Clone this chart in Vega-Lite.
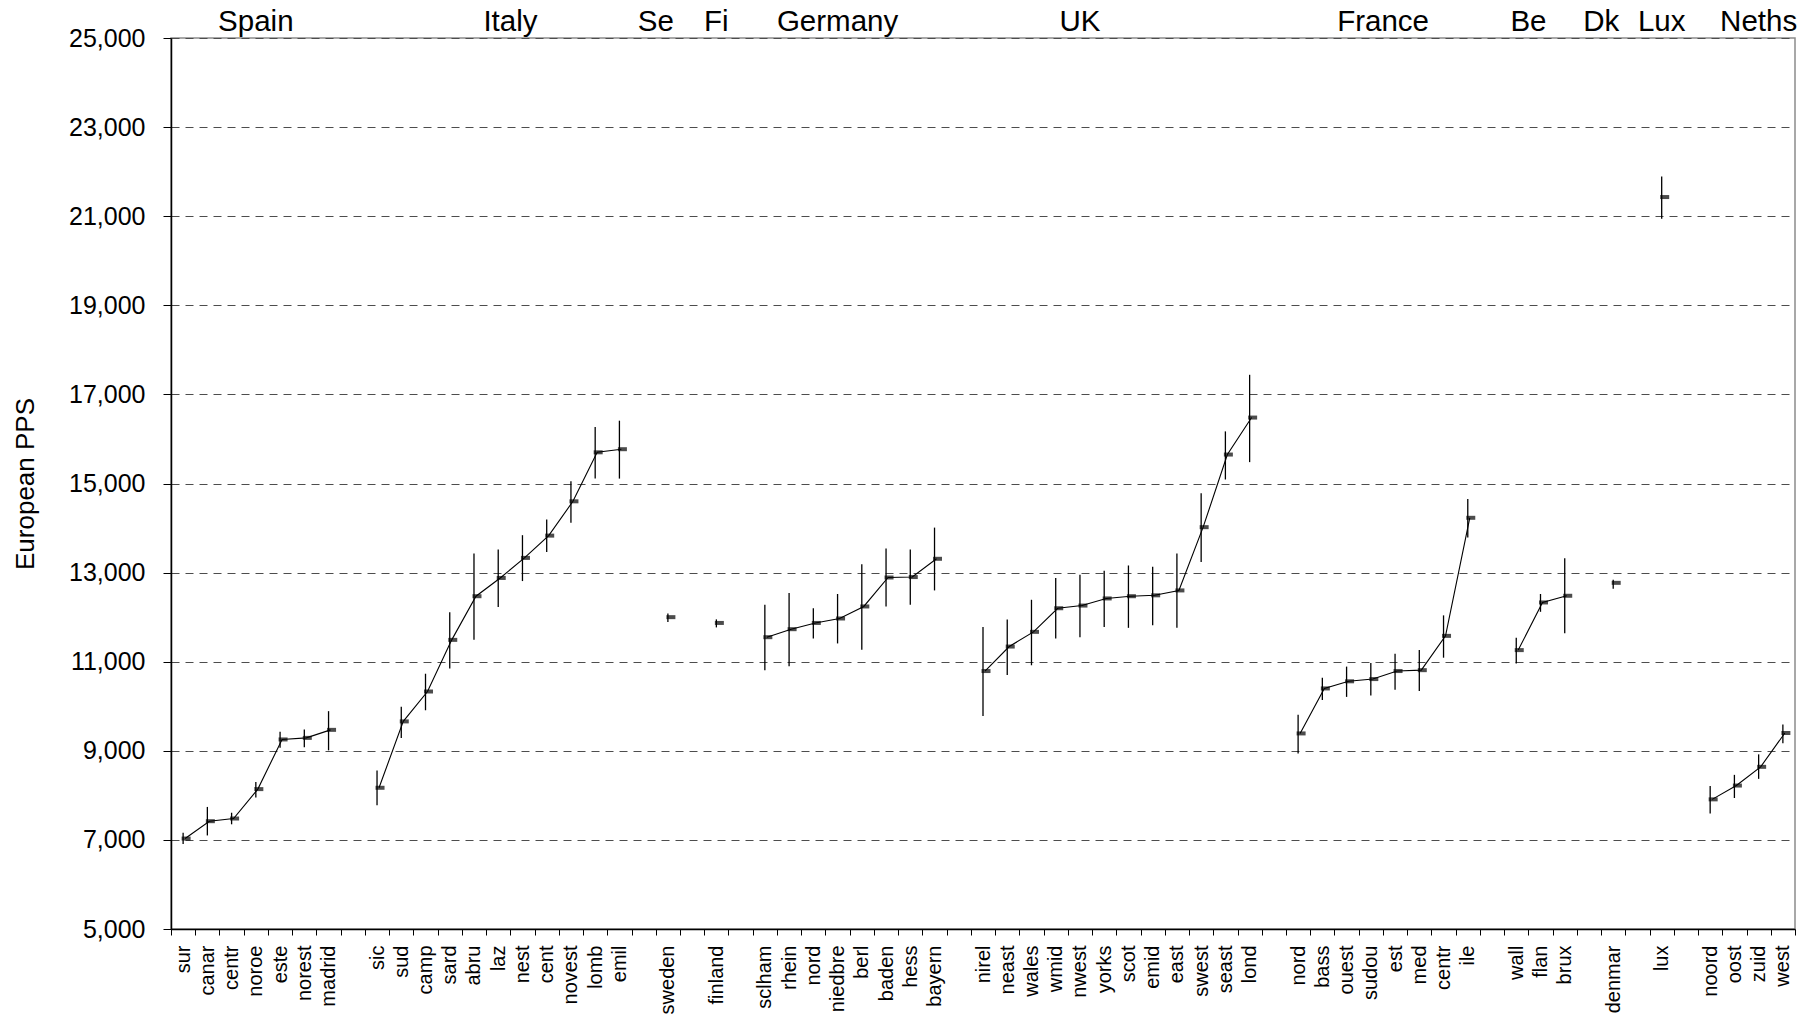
{
  "$schema": "https://vega.github.io/schema/vega-lite/v6.json",
  "width": 1624,
  "height": 891,
  "autosize": "none",
  "padding": {"left": 171, "top": 38, "right": 14, "bottom": 90},
  "background": "white",
  "config": {
    "font": "Liberation Sans",
    "view": {"stroke": "#8c8c8c", "strokeWidth": 1.5},
    "axis": {"labelColor": "black", "titleColor": "black", "tickColor": "black", "domainColor": "black"}
  },
  "datasets": {
    "pts": [
      {"c": "Spain", "k": "sur", "v": 7030, "lo": 6910, "hi": 7160},
      {"c": "Spain", "k": "canar", "v": 7420, "lo": 7100, "hi": 7740},
      {"c": "Spain", "k": "centr", "v": 7480, "lo": 7350, "hi": 7610},
      {"c": "Spain", "k": "noroe", "v": 8140, "lo": 7950, "hi": 8300},
      {"c": "Spain", "k": "este", "v": 9255, "lo": 9070, "hi": 9430},
      {"c": "Spain", "k": "norest", "v": 9290, "lo": 9080, "hi": 9480},
      {"c": "Spain", "k": "madrid", "v": 9470, "lo": 9010, "hi": 9890},
      {"c": "Italy", "k": "sic", "v": 8170, "lo": 7780, "hi": 8560},
      {"c": "Italy", "k": "sud", "v": 9660, "lo": 9290, "hi": 9990},
      {"c": "Italy", "k": "camp", "v": 10330, "lo": 9910, "hi": 10730},
      {"c": "Italy", "k": "sard", "v": 11490, "lo": 10850, "hi": 12110},
      {"c": "Italy", "k": "abru", "v": 12470, "lo": 11490, "hi": 13430},
      {"c": "Italy", "k": "laz", "v": 12880, "lo": 12230, "hi": 13520},
      {"c": "Italy", "k": "nest", "v": 13330, "lo": 12810, "hi": 13840},
      {"c": "Italy", "k": "cent", "v": 13830, "lo": 13460, "hi": 14190},
      {"c": "Italy", "k": "novest", "v": 14600, "lo": 14120, "hi": 15050},
      {"c": "Italy", "k": "lomb", "v": 15700, "lo": 15110, "hi": 16270},
      {"c": "Italy", "k": "emil", "v": 15770, "lo": 15110, "hi": 16410},
      {"c": "Sweden", "k": "sweden", "v": 12000, "lo": 11890, "hi": 12080},
      {"c": "Finland", "k": "finland", "v": 11870, "lo": 11770, "hi": 11950},
      {"c": "Germany", "k": "sclham", "v": 11550, "lo": 10810, "hi": 12280},
      {"c": "Germany", "k": "rhein", "v": 11730, "lo": 10900, "hi": 12540},
      {"c": "Germany", "k": "nord", "v": 11870, "lo": 11520, "hi": 12200},
      {"c": "Germany", "k": "niedbre", "v": 11970, "lo": 11410, "hi": 12520},
      {"c": "Germany", "k": "berl", "v": 12240, "lo": 11270, "hi": 13190},
      {"c": "Germany", "k": "baden", "v": 12890, "lo": 12240, "hi": 13540},
      {"c": "Germany", "k": "hess", "v": 12900, "lo": 12280, "hi": 13520},
      {"c": "Germany", "k": "bayern", "v": 13310, "lo": 12600, "hi": 14010},
      {"c": "UK", "k": "nirel", "v": 10790, "lo": 9780, "hi": 11780},
      {"c": "UK", "k": "neast", "v": 11340, "lo": 10700, "hi": 11950},
      {"c": "UK", "k": "wales", "v": 11670, "lo": 10920, "hi": 12390},
      {"c": "UK", "k": "wmid", "v": 12200, "lo": 11520, "hi": 12880},
      {"c": "UK", "k": "nwest", "v": 12260, "lo": 11550, "hi": 12950},
      {"c": "UK", "k": "yorks", "v": 12420, "lo": 11780, "hi": 13040},
      {"c": "UK", "k": "scot", "v": 12470, "lo": 11760, "hi": 13160},
      {"c": "UK", "k": "emid", "v": 12490, "lo": 11820, "hi": 13130},
      {"c": "UK", "k": "east", "v": 12600, "lo": 11760, "hi": 13430},
      {"c": "UK", "k": "swest", "v": 14020, "lo": 13240, "hi": 14780},
      {"c": "UK", "k": "seast", "v": 15650, "lo": 15090, "hi": 16170},
      {"c": "UK", "k": "lond", "v": 16480, "lo": 15480, "hi": 17440},
      {"c": "France", "k": "nord ", "v": 9390, "lo": 8940, "hi": 9810},
      {"c": "France", "k": "bass", "v": 10400, "lo": 10140, "hi": 10640},
      {"c": "France", "k": "ouest", "v": 10560, "lo": 10210, "hi": 10890},
      {"c": "France", "k": "sudou", "v": 10610, "lo": 10240, "hi": 10970},
      {"c": "France", "k": "est", "v": 10790, "lo": 10370, "hi": 11180},
      {"c": "France", "k": "med", "v": 10810, "lo": 10340, "hi": 11260},
      {"c": "France", "k": "centr ", "v": 11580, "lo": 11090, "hi": 12040},
      {"c": "France", "k": "ile", "v": 14230, "lo": 13790, "hi": 14650},
      {"c": "Belgium", "k": "wall", "v": 11260, "lo": 10960, "hi": 11540},
      {"c": "Belgium", "k": "flan", "v": 12330, "lo": 12120, "hi": 12520},
      {"c": "Belgium", "k": "brux", "v": 12480, "lo": 11640, "hi": 13320},
      {"c": "Denmark", "k": "denmar", "v": 12770, "lo": 12640, "hi": 12840},
      {"c": "Luxembourg", "k": "lux", "v": 21430, "lo": 20940, "hi": 21890},
      {"c": "Netherlands", "k": "noord", "v": 7910, "lo": 7590, "hi": 8210},
      {"c": "Netherlands", "k": "oost", "v": 8220, "lo": 7940, "hi": 8460},
      {"c": "Netherlands", "k": "zuid", "v": 8640, "lo": 8370, "hi": 8920},
      {"c": "Netherlands", "k": "west", "v": 9400, "lo": 9170, "hi": 9590}
    ],
    "labs": [
      {"t": "Spain", "k": "noroe", "at": "center"},
      {"t": "Italy", "k": "nest", "at": "edge"},
      {"t": "Se", "k": "sweden", "at": "edge"},
      {"t": "Fi", "k": "finland", "at": "center"},
      {"t": "Germany", "k": "niedbre", "at": "center"},
      {"t": "UK", "k": "nwest", "at": "center"},
      {"t": "France", "k": "est", "at": "edge"},
      {"t": "Be", "k": "flan", "at": "edge"},
      {"t": "Dk", "k": "denmar", "at": "edge"},
      {"t": "Lux", "k": "lux", "at": "center"},
      {"t": "Neths", "k": "zuid", "at": "center"}
    ]
  },
  "encoding": {
    "x": {"field": "k", "type": "nominal", "title": null,
      "sort": ["sur","canar","centr","noroe","este","norest","madrid"," ","sic","sud","camp","sard","abru","laz","nest","cent","novest","lomb","emil","  ","sweden","   ","finland","    ","sclham","rhein","nord","niedbre","berl","baden","hess","bayern","     ","nirel","neast","wales","wmid","nwest","yorks","scot","emid","east","swest","seast","lond","      ","nord ","bass","ouest","sudou","est","med","centr ","ile","       ","wall","flan","brux","        ","denmar","         ","lux","          ","noord","oost","zuid","west"],
      "scale": {"paddingInner": 0, "paddingOuter": 0, "domain": ["sur","canar","centr","noroe","este","norest","madrid"," ","sic","sud","camp","sard","abru","laz","nest","cent","novest","lomb","emil","  ","sweden","   ","finland","    ","sclham","rhein","nord","niedbre","berl","baden","hess","bayern","     ","nirel","neast","wales","wmid","nwest","yorks","scot","emid","east","swest","seast","lond","      ","nord ","bass","ouest","sudou","est","med","centr ","ile","       ","wall","flan","brux","        ","denmar","         ","lux","          ","noord","oost","zuid","west"]},
      "axis": {"labelAngle": -90, "tickBand": "extent", "labelOverlap": false, "grid": false, "labelFontSize": 20, "tickSize": 6, "labelPadding": 10, "domainWidth": 1.5}
    }
  },
  "layer": [
    {
      "data": {"name": "pts"},
      "mark": {"type": "rule", "color": "black", "strokeWidth": 1.3},
      "encoding": {
        "y": {"field": "lo", "type": "quantitative", "title": "European PPS",
          "scale": {"domain": [5000, 25000], "nice": false, "zero": false},
          "axis": {"values": [5000, 7000, 9000, 11000, 13000, 15000, 17000, 19000, 21000, 23000, 25000], "format": ",.0f", "grid": true, "gridDash": [8, 6], "gridColor": "#4d4d4d", "gridWidth": 1, "labelFontSize": 25, "tickSize": 8, "labelPadding": 18, "domainWidth": 1.5, "titleFontSize": 26, "titleFontWeight": "normal", "titlePadding": 30}},
        "y2": {"field": "hi"}
      }
    },
    {
      "data": {"name": "pts"},
      "mark": {"type": "line", "color": "black", "strokeWidth": 1.1, "xOffset": 2},
      "encoding": {
        "y": {"field": "v", "type": "quantitative"},
        "detail": {"field": "c"}
      }
    },
    {
      "data": {"name": "pts"},
      "mark": {"type": "tick", "color": "black", "size": 9, "thickness": 4, "xOffset": 3},
      "encoding": {
        "y": {"field": "v", "type": "quantitative"}
      }
    },
    {
      "data": {"name": "labs"},
      "transform": [{"filter": "datum.at == 'center'"}],
      "mark": {"type": "text", "fontSize": 29.5, "baseline": "alphabetic", "align": "center", "color": "black"},
      "encoding": {
        "y": {"datum": 25150, "type": "quantitative"},
        "text": {"field": "t"}
      }
    },
    {
      "data": {"name": "labs"},
      "transform": [{"filter": "datum.at == 'edge'"}],
      "mark": {"type": "text", "fontSize": 29.5, "baseline": "alphabetic", "align": "center", "color": "black", "dx": -12},
      "encoding": {
        "y": {"datum": 25150, "type": "quantitative"},
        "text": {"field": "t"}
      }
    }
  ]
}
